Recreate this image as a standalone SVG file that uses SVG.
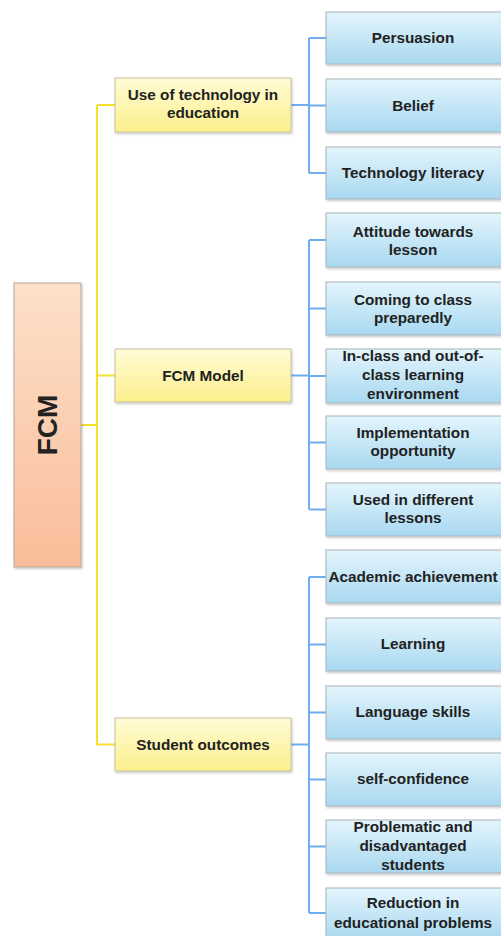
<svg xmlns="http://www.w3.org/2000/svg" width="501" height="936" viewBox="0 0 501 936">
<defs>
<linearGradient id="gBlue" x1="0" y1="0" x2="0" y2="1"><stop offset="0" stop-color="#e4f5fc"/><stop offset="1" stop-color="#a8d8f0"/></linearGradient>
<linearGradient id="gYel" x1="0" y1="0" x2="0" y2="1"><stop offset="0" stop-color="#fffbd6"/><stop offset="1" stop-color="#fcf08c"/></linearGradient>
<linearGradient id="gPeach" x1="0" y1="0" x2="0" y2="1"><stop offset="0" stop-color="#fde0c9"/><stop offset="1" stop-color="#f9bd9a"/></linearGradient>
<filter id="sh" x="-10%" y="-10%" width="130%" height="140%"><feDropShadow dx="1" dy="1.5" stdDeviation="1.2" flood-color="#000" flood-opacity="0.22"/></filter>
</defs>
<style>
.blue{fill:url(#gBlue);stroke:#a9b4ba;stroke-width:1;filter:url(#sh)}
.yel{fill:url(#gYel);stroke:#c8bfa0;stroke-width:1;filter:url(#sh)}
.peach{fill:url(#gPeach);stroke:#b8a79c;stroke-width:1;filter:url(#sh)}
text{font-family:"Liberation Sans",Arial,sans-serif;font-weight:bold;font-size:15.3px;fill:#222;text-anchor:middle}
.yl{fill:none;stroke:#f5e02c;stroke-width:2}
.bl{fill:none;stroke:#6eaef0;stroke-width:2}
</style>
<rect width="501" height="936" fill="#fff"/>
<g id="connectors">
<path class="yl" d="M81 425H97M97 105V745M97 105H115M97 375.5H115M97 744.5H115"/>
<path class="bl" d="M291 105H309M309 38V173M309 38H326M309 105.5H326M309 173H326"/>
<path class="bl" d="M291 375.5H309M309 240V509.5M309 240H326M309 308.5H326M309 376H326M309 442.5H326M309 509.5H326"/>
<path class="bl" d="M291 744.5H309M309 577V913M309 577H326M309 644.5H326M309 712.5H326M309 779.5H326M309 846.5H326M309 913H326"/>
</g>
<g id="fcm"><rect class="peach" x="14" y="283" width="67" height="284"/><text transform="translate(57 425) rotate(-90)" style="font-size:28px">FCM</text></g>
<g id="use-tech"><rect class="yel" x="115" y="78" width="176" height="54"/><text x="203" y="100">Use of technology in</text><text x="203" y="118">education</text></g>
<g id="fcm-model"><rect class="yel" x="115" y="349" width="176" height="53"/><text x="203" y="381">FCM Model</text></g>
<g id="student-outcomes"><rect class="yel" x="115" y="718" width="176" height="53"/><text x="203" y="750">Student outcomes</text></g>
<g id="persuasion"><rect class="blue" x="326" y="12" width="180" height="52"/><text x="413" y="43">Persuasion</text></g>
<g id="belief"><rect class="blue" x="326" y="79" width="180" height="53"/><text x="413" y="111">Belief</text></g>
<g id="tech-literacy"><rect class="blue" x="326" y="147" width="180" height="52"/><text x="413" y="178">Technology literacy</text></g>
<g id="attitude"><rect class="blue" x="326" y="213" width="180" height="54"/><text x="413" y="237">Attitude towards</text><text x="413" y="255">lesson</text></g>
<g id="coming"><rect class="blue" x="326" y="282" width="180" height="53"/><text x="413" y="305">Coming to class</text><text x="413" y="323">preparedly</text></g>
<g id="inclass"><rect class="blue" x="326" y="349" width="180" height="54"/><text x="413" y="361">In-class and out-of-</text><text x="413" y="380">class learning</text><text x="413" y="399">environment</text></g>
<g id="implementation"><rect class="blue" x="326" y="416" width="180" height="53"/><text x="413" y="438">Implementation</text><text x="413" y="456">opportunity</text></g>
<g id="used"><rect class="blue" x="326" y="483" width="180" height="53"/><text x="413" y="505">Used in different</text><text x="413" y="523">lessons</text></g>
<g id="academic"><rect class="blue" x="326" y="550" width="180" height="53"/><text x="413" y="582">Academic achievement</text></g>
<g id="learning"><rect class="blue" x="326" y="618" width="180" height="53"/><text x="413" y="649">Learning</text></g>
<g id="language"><rect class="blue" x="326" y="686" width="180" height="53"/><text x="413" y="717">Language skills</text></g>
<g id="selfconf"><rect class="blue" x="326" y="753" width="180" height="53"/><text x="413" y="784">self-confidence</text></g>
<g id="problematic"><rect class="blue" x="326" y="820" width="180" height="53"/><text x="413" y="832">Problematic and</text><text x="413" y="851">disadvantaged</text><text x="413" y="870">students</text></g>
<g id="reduction"><rect class="blue" x="326" y="888" width="180" height="52"/><text x="413" y="908">Reduction in</text><text x="413" y="928">educational problems</text></g>
</svg>
